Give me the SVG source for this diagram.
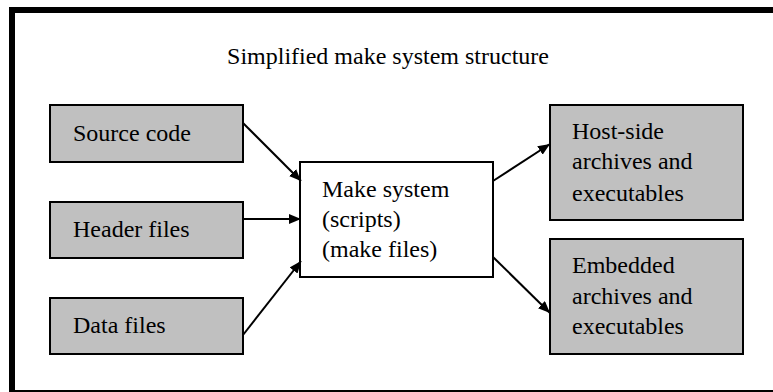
<svg xmlns="http://www.w3.org/2000/svg" width="773" height="392" viewBox="0 0 773 392">
  <style>
    .frame { fill: #ffffff; stroke: #000000; stroke-width: 6; }
    .box { fill: #c0c0c0; stroke: #000000; stroke-width: 2; }
    .core { fill: #ffffff; stroke: #000000; stroke-width: 2; }
    .name { font-family: "Times New Roman", Tinos, serif; font-size: 24px; fill: #000000; }
    .title { font-family: "Times New Roman", Tinos, serif; font-size: 24px; fill: #000000; }
    .edge { stroke: #000000; stroke-width: 2; fill: none; marker-end: url(#arrow); }
  </style>
  <defs>
    <marker id="arrow" viewBox="0 0 12 10" refX="12" refY="5" markerWidth="12" markerHeight="10" markerUnits="userSpaceOnUse" orient="auto">
      <path d="M0,0 L12,5 L0,10 Z" fill="#000000"/>
    </marker>
  </defs>

  <!-- outer frame -->
  <rect class="frame" x="12" y="10" width="800" height="383"/>
  <text class="title" x="388" y="64" text-anchor="middle">Simplified make system structure</text>

  <!-- inputs -->
  <g id="source-code">
    <rect class="box" x="50" y="105" width="193" height="57"/>
    <text class="name" x="73" y="141">Source code</text>
  </g>
  <g id="header-files">
    <rect class="box" x="50" y="202" width="193" height="56"/>
    <text class="name" x="73" y="237">Header files</text>
  </g>
  <g id="data-files">
    <rect class="box" x="50" y="298" width="193" height="56"/>
    <text class="name" x="73" y="333">Data files</text>
  </g>

  <!-- make system -->
  <g id="make-system">
    <rect class="core" x="300" y="162" width="193" height="115"/>
    <text class="name" x="322" y="197">Make system</text>
    <text class="name" x="322" y="227">(scripts)</text>
    <text class="name" x="322" y="257">(make files)</text>
  </g>

  <!-- outputs -->
  <g id="host-side">
    <rect class="box" x="550" y="105" width="193" height="115"/>
    <text class="name" x="572" y="139">Host-side</text>
    <text class="name" x="572" y="169">archives and</text>
    <text class="name" x="572" y="201">executables</text>
  </g>
  <g id="embedded">
    <rect class="box" x="550" y="239" width="193" height="115"/>
    <text class="name" x="572" y="273">Embedded</text>
    <text class="name" x="572" y="304">archives and</text>
    <text class="name" x="572" y="334">executables</text>
  </g>

  <!-- connectors -->
  <g id="connectors">
    <line class="edge" x1="243" y1="123" x2="301" y2="181"/>
    <line class="edge" x1="243" y1="219" x2="301" y2="219"/>
    <line class="edge" x1="243" y1="335" x2="301" y2="261"/>
    <line class="edge" x1="493" y1="181" x2="550" y2="144"/>
    <line class="edge" x1="493" y1="257" x2="550" y2="313"/>
  </g>
</svg>
